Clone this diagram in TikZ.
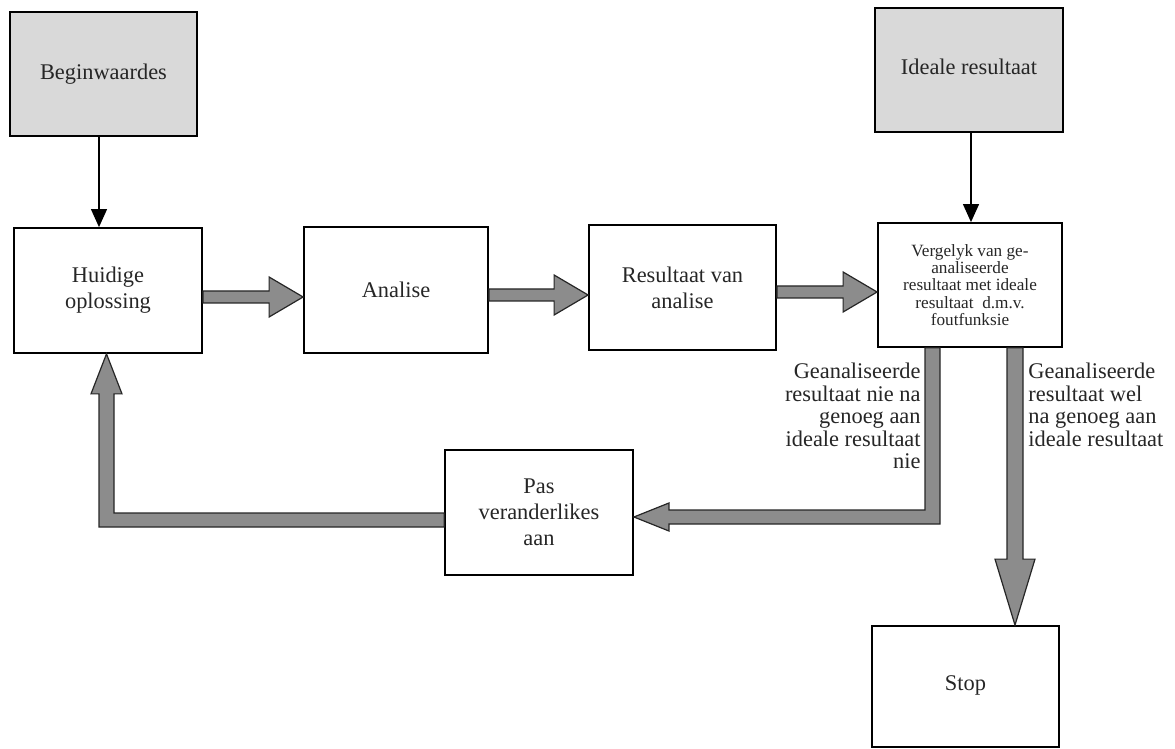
\documentclass[tikz,border=0pt]{standalone}
\usepackage{fontspec}
\setmainfont{Liberation Serif}
\usetikzlibrary{calc,arrows.meta}
\definecolor{boxgray}{HTML}{D9D9D9}
\definecolor{arrgray}{HTML}{8C8C8C}
\begin{document}
\begin{tikzpicture}[x=0.5pt,y=-0.5pt,
  box/.style={draw, line width=0.9pt, inner sep=2pt, align=center, text=black!85,
    font=\fontsize{11.2pt}{13pt}\selectfont},
  graybox/.style={box, fill=boxgray},
  smallbox/.style={box, font=\fontsize{8.6pt}{8.7pt}\selectfont},
  blk/.style={draw=black!85, line width=0.6pt, fill=arrgray, line join=miter},
  thinarr/.style={draw, line width=0.6pt, -{Triangle[length=9pt,width=8pt]}},
  lbl/.style={inner sep=0pt, text=black!85, font=\fontsize{11.2pt}{11.2pt}\selectfont}]
\useasboundingbox (0,0) rectangle (1175,749);

% boxes
\node[graybox, minimum width=93.5pt, minimum height=62pt] (begin) at (103.5,74) {\raisebox{2pt}{Beginwaardes}};
\node[graybox, minimum width=94pt, minimum height=62pt] (ideale) at (969,70) {\raisebox{3pt}{Ideale resultaat}};
\node[box, minimum width=94pt, minimum height=62.5pt] (huidige) at (108,290.5) {Huidige\\oplossing};
\node[box, minimum width=92pt, minimum height=63pt] (analise) at (396,290) {Analise};
\node[box, minimum width=93.5pt, minimum height=62.5pt] (resultaat) at (682.5,287.5) {Resultaat van\\analise};
\node[smallbox, minimum width=92pt, minimum height=62pt] (vergelyk) at (970,285)
  {Vergelyk van ge-\\analiseerde\\resultaat met ideale\\resultaat~~d.m.v.\\foutfunksie};
\node[box, minimum width=94pt, minimum height=62.5pt] (pas) at (539,512.5) {Pas\\veranderlikes\\aan};
\node[box, minimum width=93.5pt, minimum height=60.5pt] (stop) at (965.5,686.5) {\raisebox{3.5pt}{Stop}};

% helper coordinates
\coordinate (cB) at (99,0);
\coordinate (cI) at (971,0);
\coordinate (rA) at (0,297);
\coordinate (rB) at (0,295);
\coordinate (rC) at (0,292);
\coordinate (cS) at (1015,0);
\coordinate (cN) at (932.5,0);
\coordinate (rP) at (0,517);
\coordinate (cU) at (106.5,0);
\coordinate (rQ) at (0,520);

% thin arrows
\draw[thinarr] (begin.south-|cB) -- (huidige.north-|cB);
\draw[thinarr] (ideale.south-|cI) -- (vergelyk.north-|cI);

% block arrows, horizontal row
\draw[blk] ($(huidige.east|-rA)+(0,-6)$) -- ($(analise.west|-rA)+(-34,-6)$) -- ++(0,-14)
  -- (analise.west|-rA) -- ++(-34,20) -- ++(0,-14) -- ($(huidige.east|-rA)+(0,6)$) -- cycle;
\draw[blk] ($(analise.east|-rB)+(0,-6)$) -- ($(resultaat.west|-rB)+(-34,-6)$) -- ++(0,-14)
  -- (resultaat.west|-rB) -- ++(-34,20) -- ++(0,-14) -- ($(analise.east|-rB)+(0,6)$) -- cycle;
\draw[blk] ($(resultaat.east|-rC)+(0,-6)$) -- ($(vergelyk.west|-rC)+(-34,-6)$) -- ++(0,-14)
  -- (vergelyk.west|-rC) -- ++(-34,20) -- ++(0,-14) -- ($(resultaat.east|-rC)+(0,6)$) -- cycle;

% down to stop
\draw[blk] ($(vergelyk.south-|cS)+(-8,0)$) -- ($(stop.north-|cS)+(-8,-66)$) -- ++(-12,0)
  -- (stop.north-|cS) -- ++(20,-66) -- ++(-12,0) -- ($(vergelyk.south-|cS)+(8,0)$) -- cycle;

% elbow: vergelyk -> pas
\draw[blk] ($(vergelyk.south-|cN)+(-7.5,0)$) -- ($(cN|-rP)+(-7.5,-7)$) -- ($(pas.east|-rP)+(35,-7)$)
  -- ++(0,-7) -- (pas.east|-rP) -- ++(35,14) -- ++(0,-7) -- ($(cN|-rP)+(7.5,7)$)
  -- ($(vergelyk.south-|cN)+(7.5,0)$) -- cycle;

% elbow: pas -> huidige
\draw[blk] ($(pas.west|-rQ)+(0,-7)$) -- ($(cU|-rQ)+(7.5,-7)$) -- ($(huidige.south-|cU)+(7.5,40)$)
  -- ++(8,0) -- (huidige.south-|cU) -- ++(-15.5,40) -- ++(8,0) -- ($(cU|-rQ)+(-7.5,7)$)
  -- ($(pas.west|-rQ)+(0,7)$) -- cycle;

% labels
\node[lbl, anchor=north east, align=right] (lblnie) at (921,363)
  {Geanaliseerde\\resultaat nie na\\genoeg aan\\ideale resultaat\\nie};
\node[lbl, anchor=north west, align=left] (lblwel) at (1028,363)
  {Geanaliseerde\\resultaat wel\\na genoeg aan\\ideale resultaat};
\end{tikzpicture}
\end{document}
